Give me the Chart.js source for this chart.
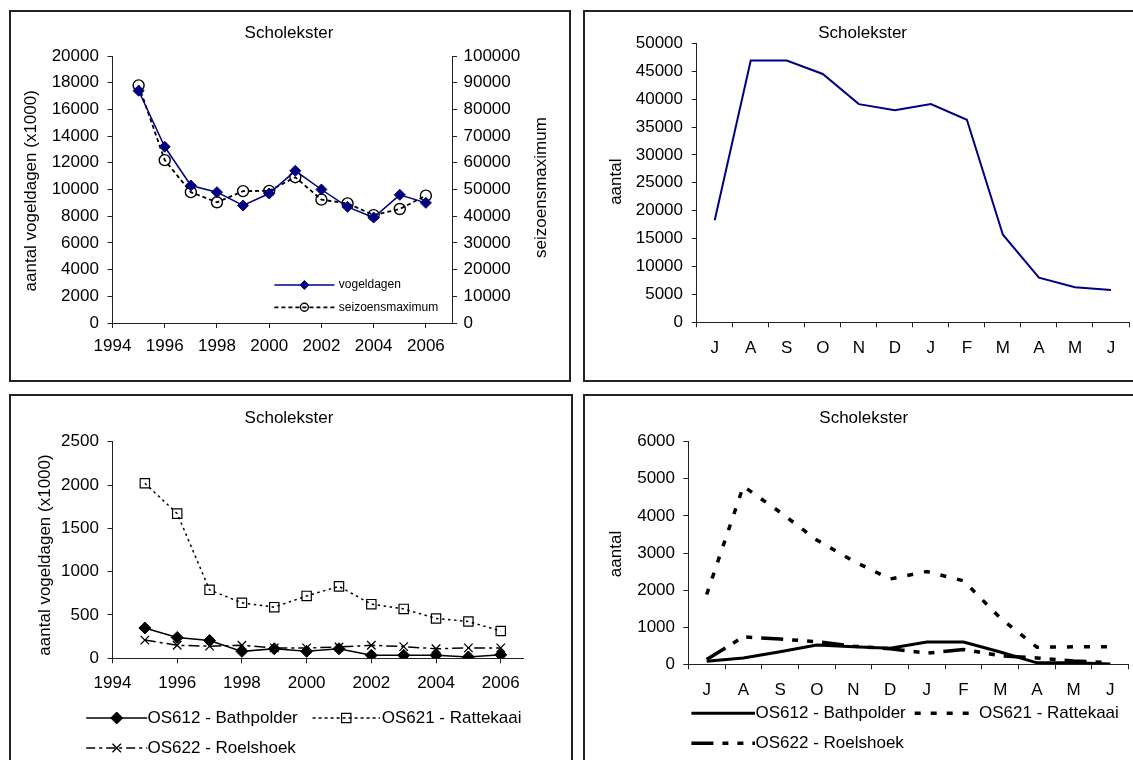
<!DOCTYPE html>
<html>
<head>
<meta charset="utf-8">
<script src="https://cdn.jsdelivr.net/npm/chart.js@4.4.1/dist/chart.umd.min.js"></script>
<style>
  html, body { margin: 0; padding: 0; background: #fff; width: 1133px; height: 760px; overflow: hidden; }
  .panel { position: absolute; }
  .panel canvas { position: absolute; left: 0; top: 0; }
  .frame { position: absolute; border: 2px solid #222; box-sizing: border-box; pointer-events: none; }
</style>
</head>
<body>
<div class="panel" style="left:9px;top:10px;width:562px;height:372px"><canvas id="yearTotal" width="562" height="372"></canvas></div>
<div class="panel" style="left:583px;top:10px;width:550px;height:372px"><canvas id="monthTotal" width="550" height="372"></canvas></div>
<div class="panel" style="left:9px;top:394px;width:563px;height:366px"><canvas id="yearArea" width="563" height="366"></canvas></div>
<div class="panel" style="left:583px;top:394px;width:550px;height:366px"><canvas id="monthArea" width="550" height="366"></canvas></div>
<div class="frame" style="left:9px;top:10px;width:562px;height:372px"></div>
<div class="frame" style="left:583px;top:10px;width:560px;height:372px"></div>
<div class="frame" style="left:9px;top:394px;width:564px;height:380px"></div>
<div class="frame" style="left:583px;top:394px;width:560px;height:380px"></div>
<script>
// ---- data ----
const years = [1995, 1996, 1997, 1998, 1999, 2000, 2001, 2002, 2003, 2004, 2005, 2006];
const vogeldagen = [17400, 13200, 10300, 9800, 8800, 9700, 11400, 10000, 8700, 7900, 9600, 9000];
const seizoensmaximum = [89000, 61000, 49000, 45200, 49400, 49500, 54600, 46200, 44800, 40400, 42700, 47700];

const months = ['J', 'A', 'S', 'O', 'N', 'D', 'J', 'F', 'M', 'A', 'M', 'J'];
const aantalTotaal = [18300, 46900, 46900, 44500, 39100, 38000, 39100, 36300, 15700, 8000, 6300, 5800];

const bathpolderJaar = [350, 240, 205, 80, 110, 80, 110, 35, 35, 35, 15, 40];
const rattekaaiJaar = [2020, 1670, 790, 640, 590, 720, 830, 625, 570, 460, 425, 315];
const roelshoekJaar = [210, 150, 140, 150, 120, 120, 130, 150, 135, 110, 120, 120];

const bathpolderMaand = [80, 170, 340, 520, 470, 430, 600, 600, 330, 40, 40, 10];
const rattekaaiMaand = [1880, 4800, 4100, 3350, 2780, 2300, 2500, 2250, 1250, 460, 470, 470];
const roelshoekMaand = [130, 740, 680, 610, 490, 420, 300, 400, 230, 170, 90, 40];

const FONT = "'Liberation Sans', Arial, sans-serif";
Chart.defaults.font.family = FONT;
Chart.defaults.font.size = 17;
Chart.defaults.color = '#000';

const xy = (xs, ys) => xs.map((x, i) => ({ x: x, y: ys[i] }));
const plain = v => String(v);

// free text: chart titles and axis titles
const panelText = {
  id: 'panelText',
  afterDraw(chart, args, opts) {
    const ctx = chart.ctx;
    for (const t of opts.items || []) {
      ctx.save();
      ctx.fillStyle = '#000';
      ctx.font = (t.size || 17) + 'px ' + FONT;
      ctx.translate(t.x, t.y);
      if (t.rot) ctx.rotate(t.rot);
      ctx.textAlign = 'center';
      ctx.textBaseline = 'middle';
      ctx.fillText(t.text, 0, 0);
      ctx.restore();
    }
  }
};

// legend rows built from each dataset's own line and point style
const lineLegend = {
  id: 'lineLegend',
  afterDraw(chart, args, opts) {
    const ctx = chart.ctx;
    for (const it of opts.items || []) {
      const ds = chart.data.datasets[it.ds];
      ctx.save();
      ctx.strokeStyle = ds.borderColor;
      ctx.lineWidth = ds.borderWidth;
      ctx.setLineDash(it.dash || ds.borderDash || []);
      ctx.beginPath();
      ctx.moveTo(it.x0, it.y);
      ctx.lineTo(it.x1, it.y);
      ctx.stroke();
      ctx.setLineDash([]);
      if (ds.pointRadius > 0) {
        ctx.fillStyle = ds.pointBackgroundColor;
        ctx.strokeStyle = ds.pointBorderColor;
        ctx.lineWidth = ds.pointBorderWidth;
        Chart.helpers.drawPoint(ctx, {
          pointStyle: ds.pointStyle,
          radius: it.r || ds.pointRadius,
          rotation: 0,
          borderWidth: ds.pointBorderWidth
        }, (it.x0 + it.x1) / 2, it.y);
      }
      ctx.fillStyle = '#000';
      ctx.font = (opts.size || 17) + 'px ' + FONT;
      ctx.textAlign = 'left';
      ctx.textBaseline = 'middle';
      ctx.fillText(ds.label, it.tx, it.y);
      ctx.restore();
    }
  }
};

function axis(extra, pad, fit) {
  const s = {
    border: { color: '#222', width: 1 },
    grid: { display: true, drawOnChartArea: false, drawTicks: true, tickLength: 5, color: '#222' },
    ticks: { color: '#000', font: { size: 17 }, padding: pad, autoSkip: false, maxRotation: 0, includeBounds: false }
  };
  Object.assign(s, extra);
  if (extra.ticksExtra) { Object.assign(s.ticks, extra.ticksExtra); delete s.ticksExtra; }
  if (extra.gridExtra) { Object.assign(s.grid, extra.gridExtra); delete s.gridExtra; }
  s.afterFit = fit;
  return s;
}
const evenYears = (scale) => { scale.ticks = scale.ticks.filter(t => t.value % 2 === 0); };

const baseOptions = {
  responsive: false,
  animation: false,
  events: [],
  plugins: { legend: { display: false }, tooltip: { enabled: false }, title: { display: false } }
};

// ---- vogeldagen & seizoensmaximum per year ----
new Chart(document.getElementById('yearTotal'), {
  type: 'line',
  data: {
    datasets: [
      {
        label: 'vogeldagen', data: xy(years, vogeldagen), yAxisID: 'y',
        borderColor: '#000080', borderWidth: 1.5,
        pointStyle: 'rectRot', pointRadius: 5.5, pointBorderWidth: 1,
        pointBackgroundColor: '#000080', pointBorderColor: '#000080'
      },
      {
        label: 'seizoensmaximum', data: xy(years, seizoensmaximum), yAxisID: 'y1',
        borderColor: '#000', borderWidth: 1.8, borderDash: [4, 3],
        pointStyle: 'circle', pointRadius: 5.5, pointBorderWidth: 1.4,
        pointBackgroundColor: 'rgba(0,0,0,0)', pointBorderColor: '#000'
      }
    ]
  },
  options: Object.assign({}, baseOptions, {
    layout: { padding: { left: 0, top: 46, right: 0, bottom: 0 } },
    scales: {
      x: axis({ type: 'linear', min: 1994, max: 2007, afterBuildTicks: evenYears,
                ticksExtra: { stepSize: 2, callback: plain } }, 8.5, s => { s.height = 59; }),
      y: axis({ position: 'left', min: 0, max: 20000, ticksExtra: { stepSize: 2000, callback: plain } }, 8.6, s => { s.width = 103.5; }),
      y1: axis({ position: 'right', min: 0, max: 100000, ticksExtra: { stepSize: 10000, callback: plain } }, 6.5, s => { s.width = 119; })
    },
    plugins: Object.assign({}, baseOptions.plugins, {
      panelText: { items: [
        { text: 'Scholekster', x: 280, y: 23 },
        { text: 'aantal vogeldagen (x1000)', x: 22.6, y: 180.8, rot: -Math.PI / 2 },
        { text: 'seizoensmaximum', x: 532.6, y: 177.5, rot: -Math.PI / 2 }
      ] },
      lineLegend: { size: 12, items: [
        { ds: 0, x0: 265.4, x1: 325.4, y: 275, tx: 329.8, r: 4.5 },
        { ds: 1, x0: 265.4, x1: 325.4, y: 297.3, tx: 329.8, r: 4 }
      ] }
    })
  }),
  plugins: [panelText, lineLegend]
});

// ---- seasonal course, all areas ----
new Chart(document.getElementById('monthTotal'), {
  type: 'line',
  data: {
    labels: months,
    datasets: [{
      label: 'aantal', data: aantalTotaal,
      borderColor: '#000080', borderWidth: 2, pointRadius: 0
    }]
  },
  options: Object.assign({}, baseOptions, {
    layout: { padding: { left: 0, top: 33.3, right: 4, bottom: 0 } },
    scales: {
      x: axis({ type: 'category', offset: true, gridExtra: { offset: true } }, 10.5, s => { s.height = 59.7; }),
      y: axis({ position: 'left', min: 0, max: 50000, ticksExtra: { stepSize: 5000, callback: plain } }, 8.7, s => { s.width = 113.7; })
    },
    plugins: Object.assign({}, baseOptions.plugins, {
      panelText: { items: [
        { text: 'Scholekster', x: 279.6, y: 23 },
        { text: 'aantal', x: 33, y: 171.7, rot: -Math.PI / 2 }
      ] }
    })
  }),
  plugins: [panelText]
});

// ---- vogeldagen per area per year ----
new Chart(document.getElementById('yearArea'), {
  type: 'line',
  data: {
    datasets: [
      {
        label: 'OS612 - Bathpolder', data: xy(years, bathpolderJaar),
        borderColor: '#000', borderWidth: 1.5,
        pointStyle: 'rectRot', pointRadius: 6, pointBorderWidth: 1,
        pointBackgroundColor: '#000', pointBorderColor: '#000'
      },
      {
        label: 'OS621 - Rattekaai', data: xy(years, rattekaaiJaar),
        borderColor: '#000', borderWidth: 1.5, borderDash: [2.5, 3.5],
        pointStyle: 'rect', pointRadius: 6.6, pointBorderWidth: 1.2,
        pointBackgroundColor: 'rgba(0,0,0,0)', pointBorderColor: '#000'
      },
      {
        label: 'OS622 - Roelshoek', data: xy(years, roelshoekJaar),
        borderColor: '#000', borderWidth: 1.5, borderDash: [11, 4, 3, 4],
        pointStyle: 'crossRot', pointRadius: 6, pointBorderWidth: 1.3,
        pointBackgroundColor: '#000', pointBorderColor: '#000'
      }
    ]
  },
  options: Object.assign({}, baseOptions, {
    layout: { padding: { left: 0, top: 47.7, right: 48.6, bottom: 0 } },
    scales: {
      x: axis({ type: 'linear', min: 1994, max: 2006.7, afterBuildTicks: evenYears,
                ticksExtra: { stepSize: 2, callback: plain } }, 9.8, s => { s.height = 101.7; }),
      y: axis({ position: 'left', min: 0, max: 2500, ticksExtra: { stepSize: 500, callback: plain } }, 8.6, s => { s.width = 103.5; })
    },
    plugins: Object.assign({}, baseOptions.plugins, {
      panelText: { items: [
        { text: 'Scholekster', x: 280, y: 24 },
        { text: 'aantal vogeldagen (x1000)', x: 36.4, y: 161, rot: -Math.PI / 2 }
      ] },
      lineLegend: { size: 17, items: [
        { ds: 0, x0: 77.2, x1: 138.2, y: 324, tx: 138.5 },
        { ds: 1, x0: 303.6, x1: 370.9, y: 324, tx: 372.7, dash: [3, 3] },
        { ds: 2, x0: 77.2, x1: 138.2, y: 354, tx: 138.5, dash: [9, 4, 3, 4] }
      ] }
    })
  }),
  plugins: [panelText, lineLegend]
});

// ---- seasonal course per area ----
new Chart(document.getElementById('monthArea'), {
  type: 'line',
  data: {
    labels: months,
    datasets: [
      { label: 'OS612 - Bathpolder', data: bathpolderMaand, borderColor: '#000', borderWidth: 3, pointRadius: 0 },
      { label: 'OS621 - Rattekaai', data: rattekaaiMaand, borderColor: '#000', borderWidth: 3.5, borderDash: [6, 11], pointRadius: 0 },
      { label: 'OS622 - Roelshoek', data: roelshoekMaand, borderColor: '#000', borderWidth: 3.5, borderDash: [22, 9, 6, 9, 6, 9], pointRadius: 0 }
    ]
  },
  options: Object.assign({}, baseOptions, {
    layout: { padding: { left: 0, top: 47.7, right: 4.3, bottom: 0 } },
    scales: {
      x: axis({ type: 'category', offset: true, gridExtra: { offset: true } }, 10.5, s => { s.height = 95.7; }),
      y: axis({ position: 'left', min: 0, max: 6000, ticksExtra: { stepSize: 1000, callback: plain } }, 8.3, s => { s.width = 105.3; })
    },
    plugins: Object.assign({}, baseOptions.plugins, {
      panelText: { items: [
        { text: 'Scholekster', x: 280.7, y: 24.3 },
        { text: 'aantal', x: 33, y: 160, rot: -Math.PI / 2 }
      ] },
      lineLegend: { size: 17, items: [
        { ds: 0, x0: 108.4, x1: 172, y: 319.3, tx: 172.5 },
        { ds: 1, x0: 331.7, x1: 392.7, y: 319.3, tx: 396, dash: [6, 10] },
        { ds: 2, x0: 108.4, x1: 172, y: 349.3, tx: 172.5, dash: [22, 9, 6, 9, 6, 9] }
      ] }
    })
  }),
  plugins: [panelText, lineLegend]
});
</script>
</body>
</html>
